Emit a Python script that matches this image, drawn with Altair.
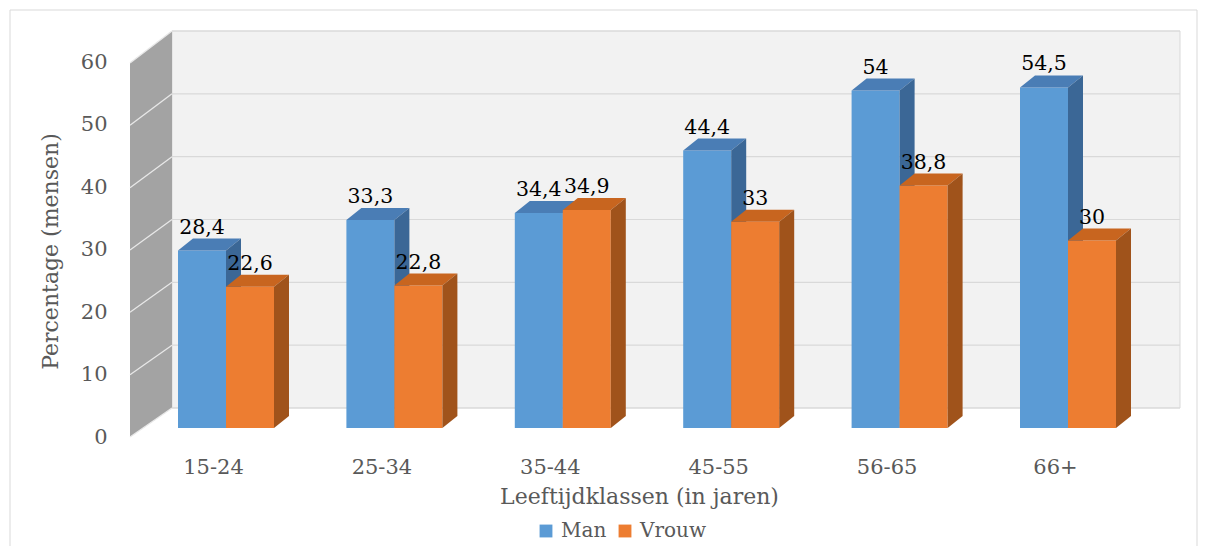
import altair as alt
import pandas as pd

categories = ["15-24", "25-34", "35-44", "45-55", "56-65", "66+"]
man = [28.4, 33.3, 34.4, 44.4, 54.0, 54.5]
vrouw = [22.6, 22.8, 34.9, 33.0, 38.8, 30.0]
series = ["Man", "Vrouw"]
y_ticks = [0, 10, 20, 30, 40, 50, 60]

FONT = "DejaVu Serif"
GREY = "#595959"
W, H = 1050, 375
OX, OY = 130, 53            # plot origin on the page
STEP = 168.4                # px per category
X0 = -96 / STEP
X1 = X0 + W / STEP
BAR = 48 / STEP
DX = 15 / STEP
DY = 12 / (H / 60)

COL = {"Man": ("#5B9BD5", "#4A7DB5", "#3B6796"),
       "Vrouw": ("#ED7D31", "#C8651F", "#A0531B")}

xs = alt.Scale(domain=[X0, X1], nice=False, zero=False)
ys = alt.Scale(domain=[0, 60], nice=False, zero=False)


def gx(px):
    return X0 + (px - OX) / STEP


def gy(py):
    return 60 - (py - OY) * 60 / H


# ---------- bars ----------
rows = []
for s, vals in zip(series, [man, vrouw]):
    for i, (c, v) in enumerate(zip(categories, vals)):
        left = i - BAR if s == "Man" else i
        rows.append(dict(series=s, cat=c, x=left, x2=left + BAR, xc=left + BAR / 2,
                         y=v, y2=0, label=f"{v:g}".replace(".", ",")))
fronts = pd.DataFrame(rows)
label_df = pd.DataFrame(dict(x=fronts["xc"], y=fronts["y"], label=fronts["label"]))


def faces(s):
    top, side = [], []
    for r in fronts[fronts.series == s].itertuples():
        L, R, v, k = r.x, r.x2, r.y, r.cat
        top += [dict(k=k, x=L, y=v, y2=v), dict(k=k, x=L + DX, y=v + DY, y2=v),
                dict(k=k, x=R, y=v + DY, y2=v), dict(k=k, x=R + DX, y=v + DY, y2=v + DY)]
        side += [dict(k=k, x=R, y=v, y2=0), dict(k=k, x=R + DX, y=v + DY, y2=DY)]
    return pd.DataFrame(top), pd.DataFrame(side)


# ---------- decoration (walls) ----------
back_df = pd.DataFrame([dict(x=gx(172), x2=gx(1180), y=gy(31), y2=gy(408))])
border_df = pd.DataFrame([dict(x=gx(10), x2=gx(1197), y=gy(10), y2=gy(590))])
grid_df = pd.DataFrame([dict(x=gx(172), x2=gx(1180), y=gy(408 - 6.283 * t)) for t in y_ticks])
side_wall_df = pd.DataFrame([dict(x=gx(130), y=gy(63), y2=gy(437)),
                             dict(x=gx(172), y=gy(31), y2=gy(408))])
side_lines_df = pd.DataFrame([dict(x=gx(130), x2=gx(172), y=gy(437 - 6.233 * t), y2=gy(408 - 6.283 * t))
                              for t in y_ticks])

border_l = alt.Chart(border_df).mark_rect(filled=False, stroke="#d9d9d9", strokeWidth=1).encode(
    x2="x2", y2="y2")
back_l = alt.Chart(back_df).mark_rect(fill="#f2f2f2", stroke="#d9d9d9", strokeWidth=1).encode(
    x2="x2", y2="y2")
grid_l = alt.Chart(grid_df).mark_rule(color="#d9d9d9", strokeWidth=1.2).encode(x2="x2")
side_l = alt.Chart(side_wall_df).mark_area(color="#a3a3a3", line=False).encode(y2="y2")
side_lines_l = alt.Chart(side_lines_df).mark_rule(color="#e8e8e8", strokeWidth=1.3).encode(
    x2="x2", y2="y2")

color_enc = alt.Color(
    "series:N",
    scale=alt.Scale(domain=series, range=[COL["Man"][0], COL["Vrouw"][0]]),
    legend=alt.Legend(orient="none", legendX=406, legendY=468, direction="horizontal",
                      title=None, symbolType="square", symbolSize=165, symbolStrokeWidth=0,
                      labelFont=FONT, labelFontSize=20, labelColor=GREY,
                      labelOffset=5, columnPadding=8),
)

layers = [border_l, back_l, grid_l, side_l, side_lines_l]

for s in series:
    df = fronts[fronts.series == s]
    front = alt.Chart(df).mark_rect().encode(x2="x2", y2="y2", color=color_enc)
    top_df, side_df = faces(s)
    top = alt.Chart(top_df).mark_area(color=COL[s][1], line=False).encode(
        y2="y2", detail="k:N")
    side = alt.Chart(side_df).mark_area(color=COL[s][2], line=False).encode(
        y2="y2", detail="k:N")
    layers += [front, top, side]

labels = alt.Chart(label_df).mark_text(font=FONT, fontSize=20.5, color="#000000",
                                       baseline="alphabetic", dy=-17).encode(text="label:N")
layers.append(labels)

x_axis = alt.Axis(
    values=list(range(len(categories))),
    labelExpr=f"{categories}[datum.value]",
    labelOffset=-13, labelPadding=28, ticks=False, domain=False, grid=False,
    labelFont=FONT, labelFontSize=21, labelColor=GREY,
    title="Leeftijdklassen (in jaren)", titleFont=FONT, titleFontSize=22,
    titleFontWeight="normal", titleColor=GREY,
    titleX=509, titleY=68, titleBaseline="middle")
y_axis = alt.Axis(
    values=y_ticks, labelOffset=9, labelPadding=23, ticks=False, domain=False,
    grid=False, labelFont=FONT, labelFontSize=21, labelColor=GREY,
    title="Percentage (mensen)", titleFont=FONT, titleFontSize=22,
    titleFontWeight="normal", titleColor=GREY,
    titleX=-80, titleY=198, titleBaseline="middle")

chart = alt.layer(*layers).encode(
    x=alt.X("x:Q", scale=xs, axis=x_axis),
    y=alt.Y("y:Q", scale=ys, axis=y_axis, stack=None),
).properties(
    width=W, height=H,
    autosize=alt.AutoSizeParams(type="none"),
    padding={"left": OX - 8, "top": OY - 8, "right": 1192 - (OX - 8) - W,
             "bottom": 538 - (OY - 8) - H},
    background="white",
).configure_view(stroke=None)

chart.save("out.html", embed_options={"renderer": "svg", "actions": False})
